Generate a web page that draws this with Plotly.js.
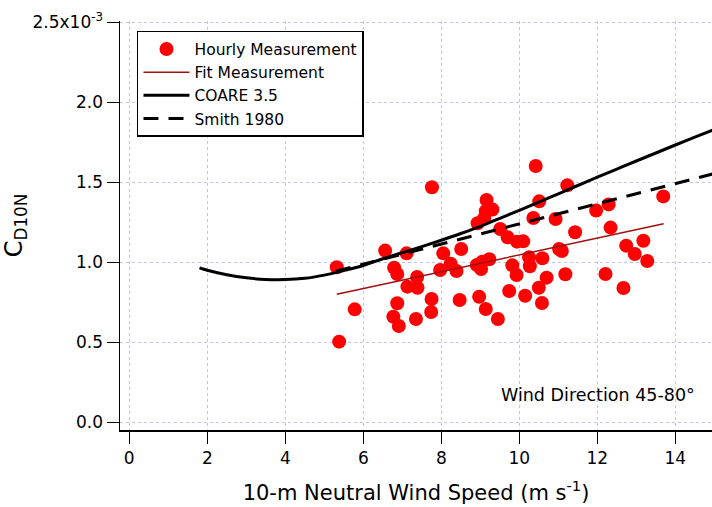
<!DOCTYPE html>
<html>
<head>
<meta charset="utf-8">
<script src="https://cdn.plot.ly/plotly-3.0.1.min.js"></script>
<style>html,body{margin:0;padding:0;background:#fff;}#chart{width:712px;height:507px;}</style>
</head>
<body>
<div id="chart"></div>
<script>
// Hourly measurements (wind speed m/s, drag coefficient in units of 1e-3)
const speed = [7.76,9.16,9.14,9.31,9.10,8.93,9.51,9.70,9.94,6.56,7.11,8.51,8.05,5.32,6.79,6.87,8.24,7.97,8.39,7.38,
  7.13,7.39,8.91,9.05,9.23,9.02,9.82,9.93,5.78,6.87,7.75,8.47,8.97,9.74,6.77,7.35,7.74,9.14,9.45,6.91,
  5.38,10.42,11.23,10.51,13.69,12.29,11.97,10.36,10.93,12.34,11.43,10.10,13.18,12.74,12.96,11.02,11.09,13.28,10.25,10.59,
  10.27,11.18,12.21,10.70,10.50,12.67,10.15,10.58];
const cd = [1.469,1.389,1.320,1.330,1.275,1.244,1.208,1.156,1.129,1.073,1.056,1.083,1.056,0.969,0.966,0.927,0.991,0.952,0.946,0.908,
  0.848,0.841,0.983,1.004,1.019,0.958,0.981,0.921,0.706,0.744,0.771,0.764,0.785,0.821,0.660,0.646,0.689,0.708,0.646,0.602,
  0.504,1.602,1.481,1.381,1.412,1.362,1.323,1.277,1.271,1.217,1.188,1.131,1.135,1.104,1.052,1.083,1.071,1.008,1.031,1.025,
  0.975,0.925,0.927,0.904,0.841,0.839,0.791,0.746];

// Fit to measurements
const fitX = [5.32, 13.70];
const fitY = [0.800, 1.241];

// COARE 3.5
const coareX = [1.8,2.0,2.5,3.0,3.5,4.0,4.5,5.0,5.5,6.0,6.5,7.0,7.5,8.0,8.5,9.0,9.5,10.0,10.5,11.0,11.5,12.0,12.5,13.0,13.5,14.0,14.5,15.0];
const coareY = [0.965,0.950,0.922,0.903,0.893,0.892,0.900,0.920,0.948,0.980,1.022,1.060,1.098,1.138,1.180,1.225,1.275,1.325,1.376,1.428,1.480,1.532,1.583,1.633,1.683,1.733,1.782,1.831];

// Smith 1980
const smithX = [5.3, 15.0];
const smithY = [0.944, 1.555];

const xTicks = [0,2,4,6,8,10,12,14];
const yTicks = [0,0.5,1.0,1.5,2.0,2.5];
const yTickText = ['0.0','0.5','1.0','1.5','2.0','2.5x10<sup>-3</sup>'];

const FONT = 'DejaVu Sans, sans-serif';

const traces = [
  {x: speed, y: cd, type:'scatter', mode:'markers', name:'Hourly Measurement',
   marker:{color:'#ff0000', size:14, line:{width:0}}},
  {x: fitX, y: fitY, type:'scatter', mode:'lines', name:'Fit Measurement',
   line:{color:'#a01010', width:1.5}},
  {x: coareX, y: coareY, type:'scatter', mode:'lines', name:'COARE 3.5',
   line:{color:'#000000', width:3, shape:'spline'}},
  {x: smithX, y: smithY, type:'scatter', mode:'lines', name:'Smith 1980',
   line:{color:'#000000', width:3, dash:'15px,10px'}}
];

const gridColor = '#c4c4f4';
const layout = {
  width:712, height:507,
  margin:{l:120, r:0, t:21, b:77, pad:0},
  paper_bgcolor:'#ffffff', plot_bgcolor:'#ffffff',
  font:{family:FONT, color:'#000000', size:16},
  showlegend:true,
  xaxis:{
    range:[-0.238, 14.94], tickvals:xTicks, ticktext:xTicks.map(String),
    ticks:'outside', ticklen:12, tickwidth:1.5, tickcolor:'#000',
    showline:true, linecolor:'#000', linewidth:1.5, mirror:false,
    showgrid:true, gridcolor:gridColor, griddash:'dot', gridwidth:1,
    zeroline:false, tickfont:{size:17, family:FONT},
    title:{text:'10-m Neutral Wind Speed (m s<sup>-1</sup>)', font:{size:21, family:FONT}, standoff:18},
    automargin:false
  },
  yaxis:{
    range:[-0.048, 2.508], tickvals:yTicks, ticktext:yTickText,
    ticks:'outside', ticklen:12, tickwidth:1.5, tickcolor:'#000',
    showline:true, linecolor:'#000', linewidth:1.5, mirror:false,
    showgrid:true, gridcolor:gridColor, griddash:'dot', gridwidth:1,
    zeroline:false, tickfont:{size:17, family:FONT},
    title:{text:'C<sub>D10N</sub>', font:{size:24, family:FONT}, standoff:14},
    automargin:false
  },
  legend:{
    x:0.0287, y:0.9756, xanchor:'left', yanchor:'top',
    bgcolor:'#ffffff', bordercolor:'#000', borderwidth:1.5,
    font:{size:15.5, family:FONT}, itemwidth:46, tracegroupgap:0
  },
  annotations:[{
    text:'Wind Direction 45-80°', xref:'paper', yref:'paper',
    x:0.975, y:0.0856, xanchor:'right', yanchor:'middle', showarrow:false,
    font:{size:17.5, family:FONT}
  }]
};

Plotly.newPlot('chart', traces, layout, {displayModeBar:false, staticPlot:true});
</script>
</body>
</html>
